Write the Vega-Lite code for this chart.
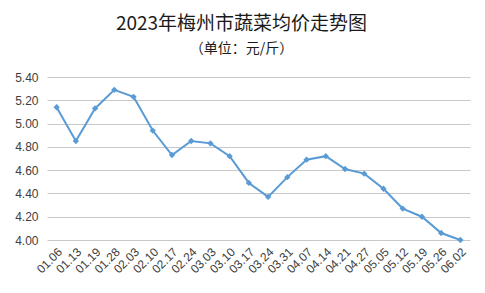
{
  "$schema": "https://vega.github.io/schema/vega-lite/v6.json",
  "width": 423,
  "height": 163,
  "autosize": {"type": "none"},
  "padding": {"left": 47, "top": 77, "right": 15, "bottom": 53},
  "background": "white",
  "title": {
    "text": "2023年梅州市蔬菜均价走势图",
    "subtitle": "（单位：元/斤）",
    "anchor": "middle",
    "dx": -17,
    "offset": 15,
    "font": "Noto Sans CJK SC",
    "fontSize": 19,
    "fontWeight": "normal",
    "color": "#1a1a1a",
    "subtitleFont": "Noto Sans CJK SC",
    "subtitleFontSize": 14,
    "subtitleColor": "#1a1a1a",
    "subtitlePadding": 8
  },
  "data": {
    "values": [
      {"date": "01.06", "price": 5.14},
      {"date": "01.13", "price": 4.85},
      {"date": "01.19", "price": 5.13},
      {"date": "01.28", "price": 5.29},
      {"date": "02.03", "price": 5.23},
      {"date": "02.10", "price": 4.94},
      {"date": "02.17", "price": 4.73},
      {"date": "02.24", "price": 4.85},
      {"date": "03.03", "price": 4.83},
      {"date": "03.10", "price": 4.72},
      {"date": "03.17", "price": 4.49},
      {"date": "03.24", "price": 4.37},
      {"date": "03.31", "price": 4.54},
      {"date": "04.07", "price": 4.69},
      {"date": "04.14", "price": 4.72},
      {"date": "04.21", "price": 4.61},
      {"date": "04.27", "price": 4.57},
      {"date": "05.05", "price": 4.44},
      {"date": "05.12", "price": 4.27},
      {"date": "05.19", "price": 4.2},
      {"date": "05.26", "price": 4.06},
      {"date": "06.02", "price": 4.0}
    ]
  },
  "encoding": {
    "x": {
      "field": "date",
      "type": "ordinal",
      "sort": null,
      "scale": {"type": "band", "paddingInner": 0, "paddingOuter": 0},
      "axis": {
        "title": null,
        "labelAngle": -45,
        "labelFont": "Liberation Sans",
        "labelFontSize": 12,
        "labelColor": "#404040",
        "domain": false,
        "ticks": false,
        "labelPadding": 6
      }
    },
    "y": {
      "field": "price",
      "type": "quantitative",
      "scale": {"domain": [4, 5.4], "nice": false, "zero": false},
      "axis": {
        "title": null,
        "values": [4, 4.2, 4.4, 4.6, 4.8, 5.0, 5.2, 5.4],
        "format": ".2f",
        "labelFont": "Liberation Sans",
        "labelFontSize": 12,
        "labelColor": "#404040",
        "domain": false,
        "ticks": false,
        "labelPadding": 9,
        "grid": true,
        "gridColor": "#c8c8c8",
        "gridWidth": 1
      }
    }
  },
  "layer": [
    {"mark": {"type": "line", "color": "#5B9BD5", "strokeWidth": 2}},
    {"mark": {"type": "point", "shape": "diamond", "filled": true, "color": "#5B9BD5", "size": 40, "opacity": 1}}
  ],
  "config": {"view": {"stroke": null}}
}
